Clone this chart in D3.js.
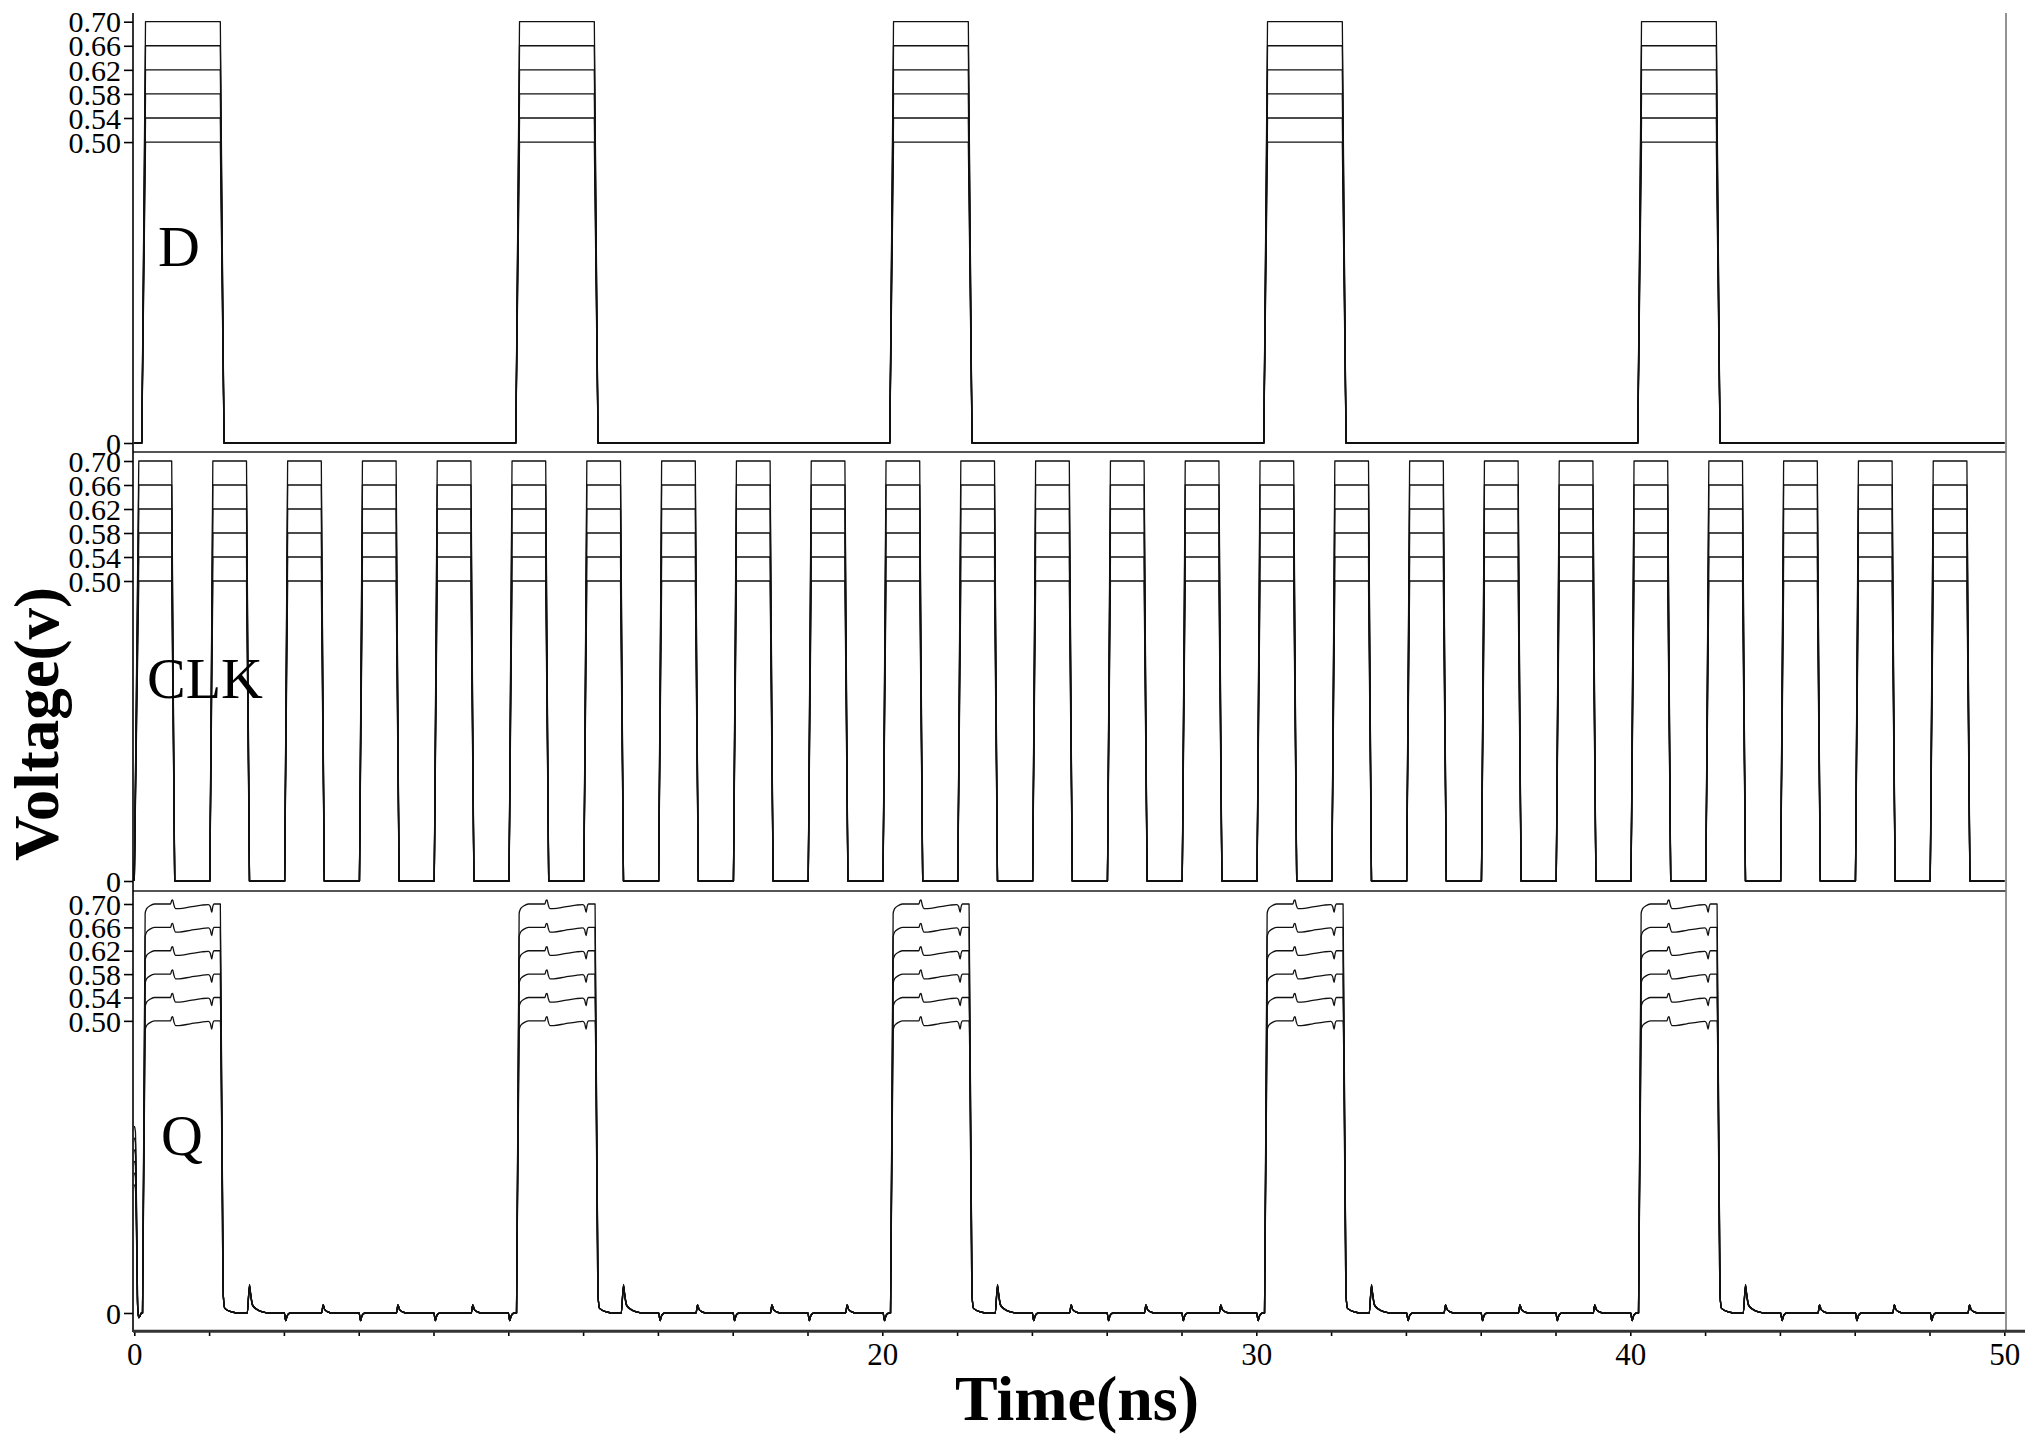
<!DOCTYPE html>
<html><head><meta charset="utf-8">
<script src="https://cdn.jsdelivr.net/npm/d3@7"></script>
<style>html,body{margin:0;padding:0;background:#fff;} svg{display:block;}</style>
</head><body>
<svg id="chart" width="2037" height="1445"></svg>
<script>
// ---------------- data ----------------
const vddLevels = [0.50, 0.54, 0.58, 0.62, 0.66, 0.70];
const yTickValues = [0, 0.50, 0.54, 0.58, 0.62, 0.66, 0.70];
const yTickLabels = ["0", "0.50", "0.54", "0.58", "0.62", "0.66", "0.70"];
const xTickValues = [0,2,4,6,8,10,12,14,16,18,20,22,24,26,28,30,32,34,36,38,40,42,44,46,48,50];
const xTickLabels = ["0","","","","","","","","","","20","","","","","30","","","","","40","","","","","50"];
const panelNames = ["D", "CLK", "Q"];

// D input edges (ns)
const dRiseStart = [0.2, 10.2, 20.2, 30.2, 40.2];
const dFallStart = [2.3, 12.3, 22.3, 32.3, 42.3];

// CLK edges (ns)
const clkRiseStart = [0.0,2.02,4.02,6.02,8.02,10.02,12.02,14.02,16.02,18.02,20.02,22.02,24.02,26.02,28.02,30.02,32.02,34.02,36.02,38.02,40.02,42.02,44.02,46.02,48.02];
const clkFallStart = [1.0,3.0,5.0,7.0,9.0,11.0,13.0,15.0,17.0,19.0,21.0,23.0,25.0,27.0,29.0,31.0,33.0,35.0,37.0,39.0,41.0,43.0,45.0,47.0,49.0];

// Q output events (ns)
const qInit = [0.22, 0.24, 0.26, 0.28, 0.30, 0.32];
const qRise = [0.22, 10.22, 20.22, 30.22, 40.22];
const qFall = [2.3, 12.32, 22.32, 32.32, 42.32];
const qHighBump = [1.0, 11.01, 21.01, 31.01, 41.01];
const qHighDip = [2.03, 12.04, 22.04, 32.04, 42.04];
const qSpike = [3.08, 13.08, 23.08, 33.08, 43.08];
const qSpikePeak = [0.043, 0.045, 0.046, 0.047, 0.048, 0.049];
const qLowDip = [4.05,6.05,8.05,10.04,14.06,16.05,18.05,20.06,24.05,26.05,28.05,30.05,34.06,36.05,38.05,40.05,44.06,46.06,48.06];
const qLowBump = [5.05,7.05,9.05,15.06,17.05,19.06,25.05,27.05,29.05,35.06,37.05,39.05,45.06,47.06,49.07];

// waveform shapes: [dt, dv]
const qRiseShape = [[0.07,-0.016],[0.11,-0.008],[0.2,-0.003],[0.32,0]];
const qHighBumpShape = [[-0.03,0],[0,0.006],[0.025,0.007],[0.06,-0.002],[0.1,-0.008],[0.2,-0.008],[0.5,-0.005],[0.8,-0.002]];
const qHighDipShape = [[-0.05,-0.001],[0,-0.004],[0.04,-0.014],[0.07,-0.004],[0.1,0]];
const qFallShape = [[0.08,0.03],[0.12,0.008],[0.3,0.002],[0.5,0]];
const qSpikeShape = [[-0.06,0],[0,1],[0.03,0.7],[0.08,0.3],[0.18,0.15],[0.35,0.04],[0.5,0]];
const qLowDipShape = [[-0.04,0],[0,-0.013],[0.03,-0.006],[0.08,-0.001],[0.13,0]];
const qLowBumpShape = [[-0.04,0],[0,0.014],[0.04,0.006],[0.12,0.002],[0.25,0]];

// ---------------- drawing ----------------
const svg = d3.select("#chart");
const serif = "'Liberation Serif','Times New Roman',Times,serif";
const x = d3.scaleLinear().domain([0, 50]).range([134.3, 2004.3]);
const panels = [
  {y: d3.scaleLinear().domain([0, 0.7]).range([443, 21.7]),  label: [158, 266]},
  {y: d3.scaleLinear().domain([0, 0.7]).range([881, 461]),   label: [147, 698]},
  {y: d3.scaleLinear().domain([0, 0.7]).range([1313, 904]),  label: [161, 1155]}
];

function dWave(V) {
  const p = [[0, 0]];
  dRiseStart.forEach((r, i) => {
    p.push([r, 0], [r + 0.1, V], [dFallStart[i], V], [dFallStart[i] + 0.1, 0]);
  });
  p.push([50, 0]);
  return p;
}
function clkWave(V) {
  const p = [];
  clkRiseStart.forEach((r, i) => {
    const dur = i === 0 ? 0.12 : 0.08;
    p.push([r, 0], [r + dur, V], [clkFallStart[i], V], [clkFallStart[i] + 0.08, 0]);
  });
  p.push([50, 0]);
  return p;
}
function qWave(V, li) {
  const q0 = qInit[li];
  const p = [[0, q0], [0.03, q0 * 0.97], [0.05, q0 * 0.75], [0.09, 0.01], [0.12, -0.008], [0.16, -0.004], [0.19, 0]];
  qRise.forEach((r, k) => {
    p.push([r, 0]);
    qRiseShape.forEach(s => p.push([r + s[0], V + s[1]]));
    qHighBumpShape.forEach(s => p.push([qHighBump[k] + s[0], V + s[1]]));
    qHighDipShape.forEach(s => p.push([qHighDip[k] + s[0], V + s[1]]));
    p.push([qFall[k], V]);
    qFallShape.forEach(s => p.push([qFall[k] + s[0], s[1]]));
    qSpikeShape.forEach(s => p.push([qSpike[k] + s[0], qSpikePeak[li] * s[1]]));
  });
  qLowDip.forEach(t => qLowDipShape.forEach(s => p.push([t + s[0], s[1]])));
  qLowBump.forEach(t => qLowBumpShape.forEach(s => p.push([t + s[0], s[1]])));
  p.push([50, 0]);
  p.sort((a, b) => a[0] - b[0]);
  return p;
}

panels.forEach((pn, pi) => {
  const g = svg.append("g");
  const lineGen = d3.line().x(d => x(d[0])).y(d => pn.y(d[1]))
    .curve(pi === 2 ? d3.curveMonotoneX : d3.curveLinear);
  vddLevels.forEach((V, li) => {
    const data = pi === 0 ? dWave(V) : pi === 1 ? clkWave(V) : qWave(V, li);
    g.append("path").attr("d", lineGen(data))
      .attr("fill", "none").attr("stroke", "#111").attr("stroke-width", 1.3)
      .attr("stroke-linejoin", "round");
  });
  // y axis ticks
  const ax = d3.axisLeft(pn.y).tickValues(yTickValues)
    .tickFormat((d, i) => yTickLabels[i]).tickSize(9).tickPadding(3);
  const ag = svg.append("g").attr("transform", "translate(133,0)").call(ax)
    .attr("font-family", serif).attr("font-size", 30);
  ag.select(".domain").remove();
  ag.selectAll(".tick line").attr("stroke", "#000").attr("stroke-width", 1.6);
  ag.selectAll(".tick text").style("font-family", serif).style("font-size", "30px")
    .attr("fill", "#000").attr("dy", "0.34em");
  // panel label
  svg.append("text").attr("x", pn.label[0]).attr("y", pn.label[1])
    .style("font-family", serif).style("font-size", "58px").attr("fill", "#000")
    .text(panelNames[pi]);
});

// separators between panels
[452, 891].forEach(yy => {
  svg.append("line").attr("x1", 133).attr("x2", 2006).attr("y1", yy).attr("y2", yy)
    .attr("stroke", "#555").attr("stroke-width", 2.2);
});
// left axis line and right border
svg.append("line").attr("x1", 133).attr("x2", 133).attr("y1", 13).attr("y2", 1332)
  .attr("stroke", "#000").attr("stroke-width", 1.6);
svg.append("line").attr("x1", 2006).attr("x2", 2006).attr("y1", 13).attr("y2", 1331)
  .attr("stroke", "#777").attr("stroke-width", 1.6);

// bottom time axis
const xa = d3.axisBottom(x).tickValues(xTickValues)
  .tickFormat((d, i) => xTickLabels[i]).tickSize(5).tickPadding(7);
const xg = svg.append("g").attr("transform", "translate(0,1331)").call(xa)
  .attr("font-family", serif).attr("font-size", 31);
xg.select(".domain").remove();
xg.selectAll(".tick line").attr("stroke", "#000").attr("stroke-width", 1.6);
xg.selectAll(".tick text").style("font-family", serif).style("font-size", "31px").attr("fill", "#000");
svg.append("line").attr("x1", 133).attr("x2", 2025).attr("y1", 1331.3).attr("y2", 1331.3)
  .attr("stroke", "#333").attr("stroke-width", 3);

// axis titles
svg.append("text").attr("x", 1077).attr("y", 1420).attr("text-anchor", "middle")
  .style("font-family", serif).style("font-weight", "bold").style("font-size", "64px")
  .attr("fill", "#000").text("Time(ns)");
svg.append("text").attr("transform", "translate(58,724) rotate(-90)").attr("text-anchor", "middle")
  .style("font-family", serif).style("font-weight", "bold").style("font-size", "63px")
  .attr("fill", "#000").text("Voltage(v)");
</script>
</body></html>
